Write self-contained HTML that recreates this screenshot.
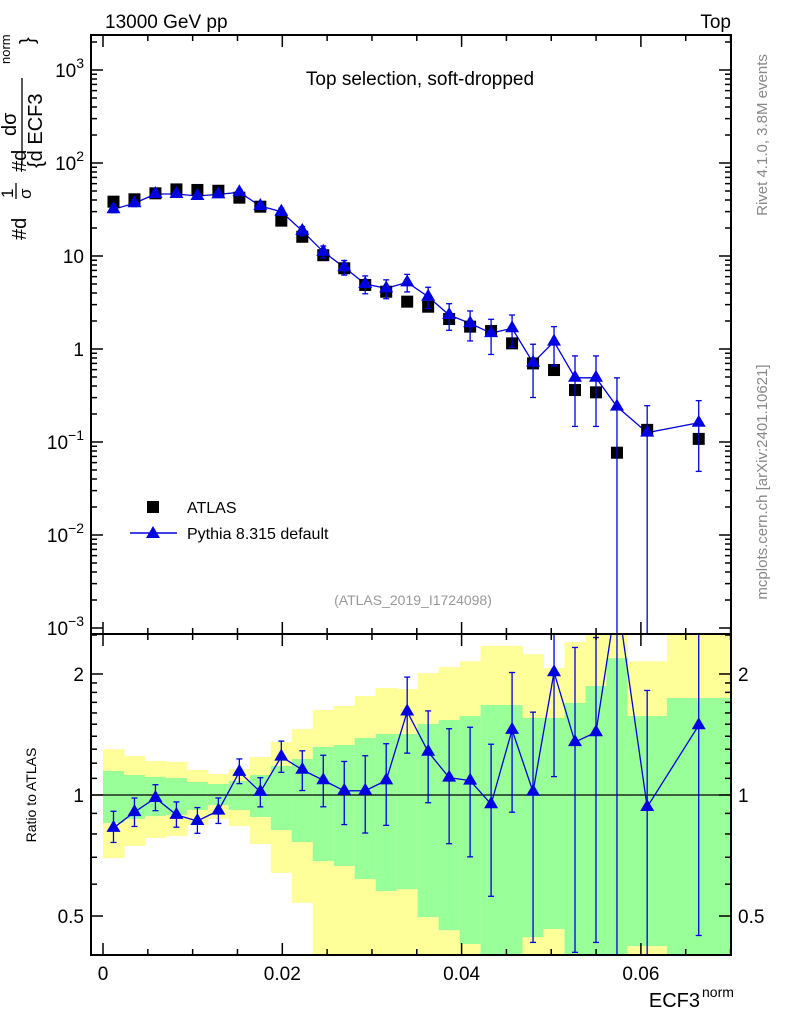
<!DOCTYPE html>
<html><head><meta charset="utf-8"><style>
html,body{margin:0;padding:0;background:#fff;width:786px;height:1024px;overflow:hidden;}
svg{display:block;font-family:"Liberation Sans",sans-serif;}
</style></head><body>
<svg id="chart" width="786" height="1024" viewBox="0 0 786 1024" xmlns="http://www.w3.org/2000/svg">
<defs>
<clipPath id="clipMain"><rect x="91" y="35" width="640" height="599"/></clipPath>
<clipPath id="clipRatio"><rect x="91" y="634" width="640" height="321"/></clipPath>
</defs>
<g id="bands" clip-path="url(#clipRatio)"></g>
<g id="ratioMarks" clip-path="url(#clipRatio)"></g>
<g id="mainMarks" clip-path="url(#clipMain)"></g>
<g id="axes"></g>
<text x="105" y="28" font-size="19">13000 GeV pp</text>
<text x="731" y="28" font-size="19" text-anchor="end">Top</text>
<text x="420" y="85" font-size="19" text-anchor="middle">Top selection, soft-dropped</text>
<text x="413" y="605" font-size="14" fill="#999" text-anchor="middle">(ATLAS_2019_I1724098)</text>
<g>
<rect x="147" y="501" width="12" height="12" fill="#000"/>
<text x="187" y="513" font-size="16">ATLAS</text>
<line x1="130" y1="533" x2="177" y2="533" stroke="#0000e0" stroke-width="1.5"/>
<path d="M153,526 L160,538 L146,538 Z" fill="#0000e0"/>
<text x="187" y="539" font-size="16">Pythia 8.315 default</text>
</g>
<g font-size="20">
<text transform="translate(26,240) rotate(-90)">#d</text>
<text transform="translate(13,198) rotate(-90)" font-size="17">1</text>
<line x1="16" y1="199" x2="16" y2="183" stroke="#000" stroke-width="1.3"/>
<text transform="translate(31,199) rotate(-90)" font-size="17">σ</text>
<text transform="translate(26,172) rotate(-90)">#d</text>
<text transform="translate(16,136) rotate(-90)">dσ</text>
<line x1="22" y1="165" x2="22" y2="78" stroke="#000" stroke-width="1.3"/>
<text transform="translate(42,168) rotate(-90)">{d ECF3</text>
<text transform="translate(10,64) rotate(-90)" font-size="13">norm</text>
<text transform="translate(34,44) rotate(-90)">}</text>
</g>
<text transform="translate(36,795) rotate(-90)" font-size="14" text-anchor="middle">Ratio to ATLAS</text>
<text x="700" y="1007" font-size="20" text-anchor="end">ECF3</text>
<text x="702" y="997" font-size="14">norm</text>
<text transform="translate(767,135) rotate(-90)" font-size="15" fill="#888" text-anchor="middle">Rivet 4.1.0,  3.8M events</text>
<text transform="translate(767,482) rotate(-90)" font-size="15" fill="#888" text-anchor="middle">mcplots.cern.ch [arXiv:2401.10621]</text>
</svg>
<script>
const binEdges=[0,0.00234,0.00468,0.00702,0.00936,0.0117,0.01404,0.01638,0.01872,0.02106,0.0234,0.02574,0.02808,0.03042,0.03276,0.0351,0.03744,0.03978,0.04212,0.04446,0.0468,0.04914,0.05148,0.05382,0.05616,0.0585,0.0629,0.07];
const atlasVals=[38.4,40.7,47.2,52,51.3,50.3,42.4,33.9,24,16.1,10.2,7.38,4.88,4.13,3.23,2.85,2.10,1.74,1.56,1.15,0.70,0.594,0.362,0.342,0.0767,0.135,0.108];
const pythiaVals=[31.8,36.9,46.4,46.4,44.2,46,48.4,34.5,29.9,18.6,11.1,7.56,5.0,4.49,5.21,3.65,2.32,1.89,1.48,1.67,0.713,1.2,0.49,0.49,0.24,0.126,0.161];
const pythiaErrUp=[0.10,0.084,0.079,0.077,0.08,0.075,0.077,0.085,0.093,0.115,0.154,0.183,0.222,0.234,0.218,0.264,0.323,0.357,0.41,0.389,0.578,0.45,0.72,0.72,1.04,0.95,0.73];
const pythiaErrDn=[0.08,0.079,0.07,0.068,0.068,0.071,0.065,0.082,0.086,0.112,0.141,0.176,0.215,0.227,0.212,0.253,0.315,0.354,0.41,0.376,0.578,0.45,0.70,0.70,1.0,1.0,0.70];
const yellowHi=[1.30,1.25,1.215,1.208,1.154,1.128,1.16,1.243,1.355,1.459,1.627,1.665,1.763,1.846,1.834,2.01,2.08,2.15,2.35,2.35,2.24,2.07,2.40,3,3,2.15,3];
const greenHi=[1.147,1.121,1.109,1.102,1.077,1.065,1.083,1.121,1.181,1.229,1.317,1.332,1.386,1.418,1.418,1.502,1.537,1.572,1.675,1.675,1.555,1.555,1.694,1.867,2.19,1.572,1.743];
const greenLo=[0.852,0.872,0.887,0.892,0.918,0.944,0.918,0.882,0.818,0.764,0.685,0.666,0.618,0.577,0.583,0.497,0.461,0.426,0.3,0.3,0.443,0.464,0.3,0.3,0.3,0.421,0.3];
const yellowLo=[0.697,0.747,0.782,0.791,0.842,0.872,0.837,0.755,0.640,0.539,0.3,0.3,0.3,0.3,0.3,0.3,0.3,0.3,0.3,0.3,0.3,0.3,0.3,0.3,0.3,0.3,0.3];
const xTicks=[0,0.02,0.04,0.06];
const xTickLabels=["0","0.02","0.04","0.06"];
const yDecades=[-3,-2,-1,0,1,2,3];
const ratioTicks=[0.5,1,2];
const ratioTickLabels=["0.5","1","2"];

const NS="http://www.w3.org/2000/svg";
const X=v=>103+v*8965;
const Y=v=>349-93*Math.log10(Math.max(v,1e-6));
const R=v=>795-402*Math.log10(Math.max(v,0.01));
function mk(parent,tag,attrs){const e=document.createElementNS(NS,tag);for(const k in attrs)e.setAttribute(k,attrs[k]);parent.appendChild(e);return e;}
const bands=document.getElementById('bands');
const rm=document.getElementById('ratioMarks');
const mm=document.getElementById('mainMarks');
const ax=document.getElementById('axes');
const centers=binEdges.slice(0,-1).map((e,i)=>(e+binEdges[i+1])/2);
const BLUE="#0000e0";

for(let i=0;i<atlasVals.length;i++){
  const x0=X(binEdges[i]),x1=X(binEdges[i+1]);
  const y=mk(bands,'rect',{x:x0,y:R(yellowHi[i]),width:x1-x0+0.5,height:R(yellowLo[i])-R(yellowHi[i]),fill:'#ffff99'});
  
  
  const g=mk(bands,'rect',{x:x0,y:R(greenHi[i]),width:x1-x0+0.5,height:R(greenLo[i])-R(greenHi[i]),fill:'#99ff99'});
  
  
}
const one=mk(rm,'line',{x1:91,x2:731,y1:R(1),y2:R(1),stroke:'#000','stroke-width':1.3});



function tri(parent,x,y,name){
  const t=mk(parent,'path',{d:`M${x},${y-8} L${x+7},${y+4} L${x-7},${y+4} Z`,fill:BLUE});
  
  
}
function errbar(parent,x,y1,y2,name){
  const g=mk(parent,'g',{stroke:BLUE,'stroke-width':1.3});
  
  
  mk(g,'line',{x1:x,x2:x,y1:y1,y2:y2});
  mk(g,'line',{x1:x-3,x2:x+3,y1:y1,y2:y1});
  mk(g,'line',{x1:x-3,x2:x+3,y1:y2,y2:y2});
}
const ratio=pythiaVals.map((p,i)=>p/atlasVals[i]);
let rp='';
ratio.forEach((r,i)=>{rp+=(i?'L':'M')+X(centers[i])+','+R(r);});
const rl=mk(rm,'path',{d:rp,fill:'none',stroke:BLUE,'stroke-width':1.3});


ratio.forEach((r,i)=>{
  const x=X(centers[i]);
  errbar(rm,x,R(r*(1+pythiaErrUp[i])),R(r*Math.max(1-pythiaErrDn[i],0.001)),'ratio-errorbar');
  tri(rm,x,R(r),'ratio-point');
});
let mp='';
pythiaVals.forEach((p,i)=>{mp+=(i?'L':'M')+X(centers[i])+','+Y(p);});
const ml=mk(mm,'path',{d:mp,fill:'none',stroke:BLUE,'stroke-width':1.3});


atlasVals.forEach((a,i)=>{
  const x=X(centers[i]);
  const s=mk(mm,'rect',{x:x-6,y:Y(a)-6,width:12,height:12,fill:'#000'});
  
  
});
pythiaVals.forEach((p,i)=>{
  const x=X(centers[i]);
  errbar(mm,x,Y(p*(1+pythiaErrUp[i])),Y(p*Math.max(1-pythiaErrDn[i],1e-6)),'pythia-errorbar');
  tri(mm,x,Y(p),'pythia-point');
});
[[35,634],[634,955]].forEach(([t,b],k)=>{
  const f=mk(ax,'rect',{x:91,y:t,width:640,height:b-t,fill:'none',stroke:'#000','stroke-width':2});
  
  
});
for(let v=0;v<=0.0701;v+=0.005){
  const x=X(v);const major=Math.abs(v/0.02-Math.round(v/0.02))<1e-6;const L=major?12:6;
  [[35,1],[634,-1],[634,1],[955,-1]].forEach(([y,d])=>{mk(ax,'line',{x1:x,x2:x,y1:y,y2:y+d*L,stroke:'#000','stroke-width':1.5});});
}
xTicks.forEach((v,i)=>{
  const t=mk(ax,'text',{x:X(v),y:980,'font-size':19,'text-anchor':'middle'});
  t.textContent=xTickLabels[i];
  
  
});
yDecades.forEach(d=>{
  for(let m=1;m<10;m++){
    const y=Y(m*Math.pow(10,d));if(y<35||y>634)continue;
    const L=m===1?12:6;
    mk(ax,'line',{x1:91,x2:91+L,y1:y,y2:y,stroke:'#000','stroke-width':1.5});
    mk(ax,'line',{x1:731,x2:731-L,y1:y,y2:y,stroke:'#000','stroke-width':1.5});
  }
  const y=Y(Math.pow(10,d));
  const t=mk(ax,'text',{x:84,y:y+7,'font-size':19,'text-anchor':'end'});
  
  
  if(d===0)t.textContent='1';
  else if(d===1)t.textContent='10';
  else{t.textContent='10';const s=mk(t,'tspan',{dy:-9,'font-size':14});s.textContent=String(d).replace('-','−');}
});
for(let v=0.4;v<=2.55;v+=(v<1.999?0.1:0.5)){
  const y=R(v);if(y<634||y>955)continue;
  const major=ratioTicks.some(t=>Math.abs(t-v)<1e-6);const L=major?12:6;
  mk(ax,'line',{x1:91,x2:91+L,y1:y,y2:y,stroke:'#000','stroke-width':1.5});
  mk(ax,'line',{x1:731,x2:731-L,y1:y,y2:y,stroke:'#000','stroke-width':1.5});
}
ratioTicks.forEach((v,i)=>{
  const y=R(v)+7;
  const a=mk(ax,'text',{x:84,y:y,'font-size':19,'text-anchor':'end'});a.textContent=ratioTickLabels[i];
  
  
  const b=mk(ax,'text',{x:738,y:y,'font-size':19});b.textContent=ratioTickLabels[i];
  
  
});
</script>
</body></html>
